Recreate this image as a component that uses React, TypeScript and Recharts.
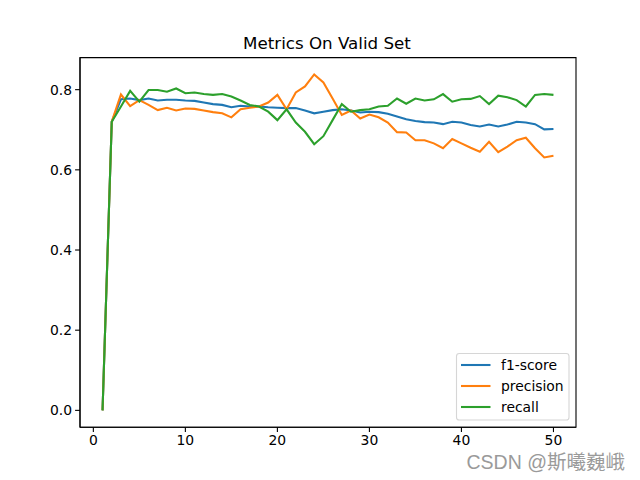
import React from "react";
import { LineChart, Line, XAxis, YAxis, ReferenceArea } from "recharts";

const epochs = [1, 2, 3, 4, 5, 6, 7, 8, 9, 10, 11, 12, 13, 14, 15, 16, 17, 18, 19, 20, 21, 22, 23, 24, 25, 26, 27, 28, 29, 30, 31, 32, 33, 34, 35, 36, 37, 38, 39, 40, 41, 42, 43, 44, 45, 46, 47, 48, 49, 50];

const f1Score = [0, 0.72, 0.776, 0.778, 0.774, 0.778, 0.773, 0.775, 0.775, 0.773, 0.772, 0.768, 0.764, 0.762, 0.756, 0.76, 0.758, 0.758, 0.756, 0.755, 0.754, 0.754, 0.748, 0.741, 0.745, 0.749, 0.751, 0.748, 0.743, 0.745, 0.744, 0.74, 0.733, 0.726, 0.722, 0.719, 0.718, 0.714, 0.72, 0.718, 0.712, 0.708, 0.713, 0.708, 0.713, 0.72, 0.718, 0.714, 0.701, 0.702];

const precision = [0, 0.72, 0.788, 0.759, 0.774, 0.762, 0.749, 0.755, 0.748, 0.753, 0.752, 0.748, 0.744, 0.741, 0.731, 0.751, 0.755, 0.758, 0.768, 0.787, 0.751, 0.793, 0.808, 0.838, 0.818, 0.778, 0.737, 0.748, 0.728, 0.738, 0.731, 0.718, 0.694, 0.693, 0.674, 0.674, 0.666, 0.654, 0.677, 0.666, 0.655, 0.645, 0.67, 0.644, 0.658, 0.674, 0.68, 0.654, 0.631, 0.635];

const recall = [0, 0.72, 0.758, 0.797, 0.77, 0.799, 0.799, 0.795, 0.803, 0.791, 0.793, 0.789, 0.787, 0.789, 0.783, 0.773, 0.762, 0.758, 0.745, 0.724, 0.751, 0.718, 0.695, 0.664, 0.684, 0.724, 0.764, 0.745, 0.749, 0.751, 0.758, 0.76, 0.778, 0.765, 0.778, 0.773, 0.776, 0.789, 0.77, 0.776, 0.777, 0.784, 0.764, 0.785, 0.781, 0.774, 0.758, 0.787, 0.789, 0.787];

const xTicks = [0, 10, 20, 30, 40, 50];
const yTicks = [0, 0.2, 0.4, 0.6, 0.8];
const xDomain = [-1.45, 52.45];
const yDomain = [-0.042, 0.88];

const seriesNames = ["f1-score", "precision", "recall"];
const seriesKeys = ["f1", "precision", "recall"];
const seriesColors = ["#1f77b4", "#ff7f0e", "#2ca02c"];

const titleText = "Metrics On Valid Set";
const watermarkText = "CSDN @斯曦巍峨";

const data = epochs.map((e, i) => ({
  epoch: e,
  f1: f1Score[i],
  precision: precision[i],
  recall: recall[i],
}));

const FONT = "'DejaVu Sans', sans-serif";
const tickStyle = { fontFamily: FONT, fontSize: 13.9, fill: "#000" };

export default function App() {
  return (
    <div style={{ position: "absolute", left: 0, top: 0, width: 640, height: 480, background: "#fff" }}>
      <LineChart
        width={640}
        height={480}
        data={data}
        margin={{ top: 57.6, right: 64, left: 0, bottom: 0 }}
      >
        <XAxis
          dataKey="epoch"
          type="number"
          domain={xDomain}
          ticks={xTicks}
          allowDataOverflow
          height={52.8}
          tickSize={4.9}
          tickMargin={3}
          tick={tickStyle}
          axisLine={{ stroke: "#000", strokeWidth: 1.1 }}
          tickLine={{ stroke: "#000", strokeWidth: 1.1 }}
        />
        <YAxis
          type="number"
          domain={yDomain}
          ticks={yTicks}
          allowDataOverflow
          width={80}
          tickSize={4.9}
          tickMargin={3}
          tick={tickStyle}
          tickFormatter={(v: number) => v.toFixed(1)}
          axisLine={{ stroke: "#000", strokeWidth: 1.1 }}
          tickLine={{ stroke: "#000", strokeWidth: 1.1 }}
        />
        <ReferenceArea
          x1={xDomain[0]}
          x2={xDomain[1]}
          y1={yDomain[0]}
          y2={yDomain[1]}
          ifOverflow="visible"
          fill="none"
          fillOpacity={0}
          stroke="#000"
          strokeWidth={1.1}
        />
        {seriesKeys.map((k, i) => (
          <Line
            key={k}
            type="linear"
            dataKey={k}
            stroke={seriesColors[i]}
            strokeWidth={2.08}
            dot={false}
            activeDot={false}
            isAnimationActive={false}
          />
        ))}
      </LineChart>
      <svg
        width={640}
        height={480}
        style={{ position: "absolute", left: 0, top: 0, pointerEvents: "none" }}
      >
        <text x={327} y={49} textAnchor="middle" fontFamily={FONT} fontSize={16.7} fill="#000">
          {titleText}
        </text>
        <rect x={456.5} y={353.5} width={112.5} height={66.5} rx={2.8} fill="#fff" fillOpacity={0.8} stroke="#d6d6d6" strokeWidth={1.1} />
        {seriesNames.map((n, i) => (
          <g key={n}>
            <line x1={461} x2={490.5} y1={365 + i * 21} y2={365 + i * 21} stroke={seriesColors[i]} strokeWidth={2.08} />
            <text x={501} y={370 + i * 21} fontFamily={FONT} fontSize={13.9} fill="#000">
              {n}
            </text>
          </g>
        ))}
        <text
          x={625}
          y={469}
          textAnchor="end"
          fontFamily="'Liberation Sans', 'Noto Sans CJK SC', sans-serif"
          fontSize={19.5}
          fill="#9a9a9a"
        >
          {watermarkText}
        </text>
      </svg>
    </div>
  );
}
